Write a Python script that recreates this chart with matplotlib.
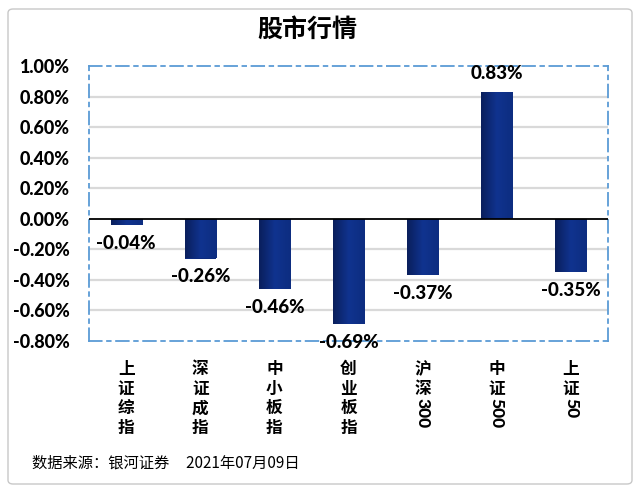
import matplotlib
matplotlib.use("Agg")
import matplotlib.pyplot as plt
from matplotlib.patches import FancyBboxPatch
from matplotlib.transforms import offset_copy
from matplotlib.colors import LinearSegmentedColormap
import numpy as np

plt.rcParams['font.family'] = ['Lato', 'Noto Sans CJK SC', 'DejaVu Sans']

title = "股市行情"
categories = [["上", "证", "综", "指"], ["深", "证", "成", "指"], ["中", "小", "板", "指"],
              ["创", "业", "板", "指"], ["沪", "深", "300"], ["中", "证", "500"], ["上", "证", "50"]]
values = [-0.04, -0.26, -0.46, -0.69, -0.37, 0.83, -0.35]
yticks = [-0.8, -0.6, -0.4, -0.2, 0.0, 0.2, 0.4, 0.6, 0.8, 1.0]
source = "数据来源：银河证券     2021年07月09日"

fig = plt.figure(figsize=(6.4, 4.92), dpi=100)
fig.patch.set_facecolor('white')

# outer frame
frame = FancyBboxPatch((8/640, 8/492), 624/640, 475/492, boxstyle="round,pad=0,rounding_size=0.008",
                       transform=fig.transFigure, fill=False, edgecolor='#c8c8c8', linewidth=1.0)
fig.patches.append(frame)

ax = fig.add_axes([89/640, 1-341/492, 519/640, 275/492])
x = np.arange(len(values))
ax.set_xlim(-0.5, len(values) - 0.5)
ax.set_ylim(-0.8, 1.0)

for t in yticks[1:-1]:
    if t != 0:
        ax.axhline(t, color='#d9d9d9', linewidth=1.6, zorder=1)

bars = ax.bar(x, values, width=0.42, color='#0d2b7e', zorder=3)
grad = np.linspace(0, 1, 64).reshape(1, -1)
cmap = LinearSegmentedColormap.from_list('navy', ['#0a1f5c', '#10338f', '#0d2d80'])
for b in bars:
    x0, y0 = b.get_x(), b.get_y()
    w, h = b.get_width(), b.get_height()
    im = ax.imshow(grad, extent=[x0, x0 + w, min(y0, y0 + h), max(y0, y0 + h)], cmap=cmap,
                   aspect='auto', zorder=3.5)
    im.set_clip_path(b)

ax.axhline(0, color='black', linewidth=1.3, zorder=4)

for sp in ax.spines.values():
    sp.set_linestyle((0, (7, 3, 2, 3)))
    sp.set_color('#5b9bd5')
    sp.set_linewidth(1.3)

ax.set_yticks(yticks)
ax.set_yticklabels([f"{t:.2f}%" for t in yticks], fontsize=13, fontweight='black')
ax.tick_params(axis='y', length=0, pad=14)
ax.set_xticks([])

for xi, v in zip(x, values):
    if v >= 0:
        ax.annotate(f"{v:.2f}%", (xi, v), xytext=(0, 7), textcoords='offset points',
                    ha='center', va='bottom', fontsize=13.5, fontweight='black', zorder=6)
    else:
        ax.annotate(f"{v:.2f}%", (xi, v), xytext=(0, -7), textcoords='offset points',
                    ha='center', va='top', fontsize=13.5, fontweight='black', zorder=6)

# vertical category labels
pitch = 19.5
for xi, parts in zip(x, categories):
    y_off = 0.0
    for p in parts:
        if p.isdigit():
            tr = offset_copy(ax.get_xaxis_transform(), fig=fig, x=0, y=-y_off + 1, units='dots')
            ax.text(xi, -0.07, p, rotation=-90, ha='center', va='top', fontsize=12.5,
                    fontweight='black', transform=tr, family=['Lato', 'Noto Sans CJK SC'])
            y_off += 10 * len(p)
        else:
            tr = offset_copy(ax.get_xaxis_transform(), fig=fig, x=0, y=-y_off, units='dots')
            ax.text(xi, -0.07, p, ha='center', va='top', fontsize=12, fontweight='black',
                    transform=tr, family=['Noto Sans CJK SC'])
            y_off += pitch

fig.text(307/640, 1-30/492, title, ha='center', va='center', fontsize=18, fontweight='black',
         family=['Noto Sans CJK SC'])
fig.text(32/640, 1-463/492, source, ha='left', va='center', fontsize=11,
         family=['Noto Sans CJK SC'])

fig.savefig('out.png', dpi=100, facecolor='white')
